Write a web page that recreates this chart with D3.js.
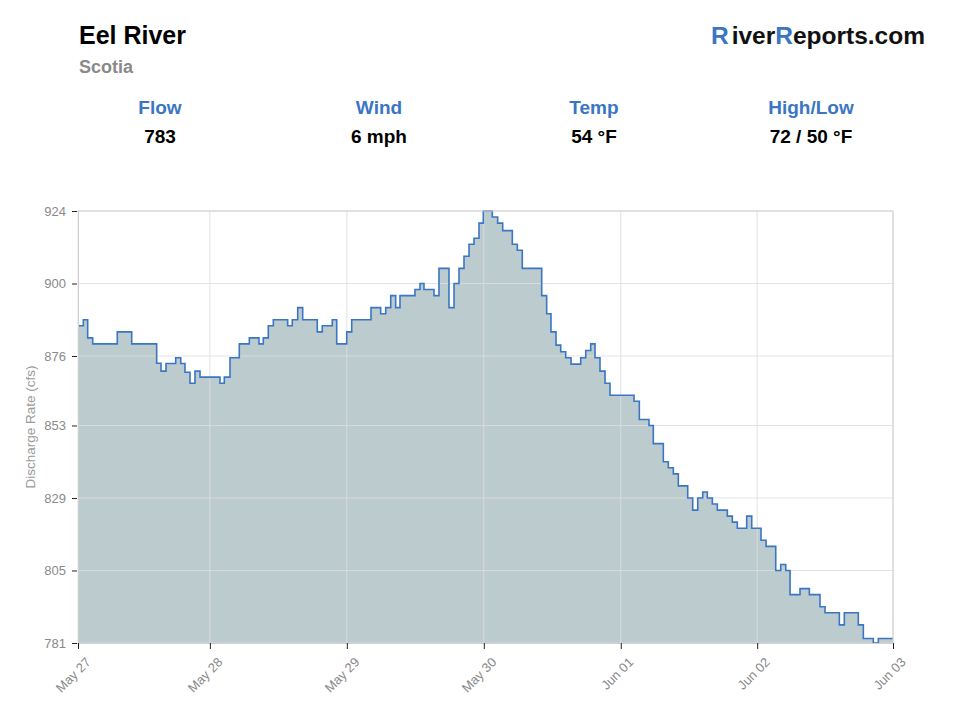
<!DOCTYPE html>
<html>
<head>
<meta charset="utf-8">
<script src="https://cdn.jsdelivr.net/npm/d3@7"></script>
<style>
  body { margin: 0; background: #fff; }
  svg { font-family: "Liberation Sans", Arial, sans-serif; }
</style>
</head>
<body>
<script>
// hours since the start of the chart, and discharge (cfs) from that hour on
const hours = [0, 0.94, 1.71, 2.6, 6.94, 9.49, 13.9, 14.67, 15.55, 17.26, 18.15, 18.9, 19.79, 20.67, 21.56,
  25.09, 25.85, 26.86, 28.5, 30.27, 31.98, 32.74, 33.62, 34.51, 37.05, 37.86, 38.82, 39.7, 42.28, 43.16,
  44.93, 45.71, 47.48, 48.36, 51.77, 53.48, 54.37, 55.25, 56.13, 56.89, 59.54, 60.43, 61.13, 62.9, 63.78,
  65.55, 66.44, 67.32, 68.2, 69.09, 69.97, 70.85, 71.61, 73.2, 74.15, 75.04, 76.74, 77.62, 78.5, 81.93,
  82.81, 83.57, 84.46, 85.29, 86.17, 87.11, 88.82, 89.71, 90.59, 91.35, 92.23, 93.12, 94, 98.24, 99.18,
  100.89, 101.65, 103.42, 104.3, 105.19, 106.07, 107.73, 108.61, 109.5, 110.38, 111.19, 112.08, 112.96,
  114.73, 115.61, 116.49, 118.15, 119.04, 120.68, 121.57, 123.28, 124.16, 125.05, 125.81, 127.57, 129.22,
  131.1, 131.99, 134.52, 135.4, 137.87, 138.76, 140.52, 141.41, 144];
const flow = [886, 888, 882, 880, 884, 880, 873.6, 871, 873.5, 875.4, 873.5, 870.6, 867, 871, 869,
  867, 869, 875.4, 880, 882, 880, 882, 886, 888, 886, 888, 892, 888, 884, 886,
  888, 880, 884, 888, 892, 890, 892, 896, 892, 896, 898, 900, 898, 896, 905,
  892, 900, 905, 909, 913, 915, 920, 924, 922, 920, 917.5, 913, 911, 905, 896,
  890, 884, 879.6, 877.4, 875.4, 873.3, 875.4, 877.8, 880, 875.4, 871, 867, 863, 861, 855,
  853, 847, 841, 839, 837, 833, 829, 825, 829, 831, 829, 827, 825,
  823, 821, 819, 823, 819, 815, 813, 805, 807, 805, 797, 799, 797,
  793, 791, 787, 791, 787, 782.5, 781, 782.5, 782.5];

const yTicks = [781, 805, 829, 853, 876, 900, 924];
const yDomain = [781, 924];
const xTickHours = [0, 23.3, 47.5, 71.7, 95.9, 120, 144];
const xTickLabels = ["May 27", "May 28", "May 29", "May 30", "Jun 01", "Jun 02", "Jun 03"];

const statLabels = ["Flow", "Wind", "Temp", "High/Low"];
const statValues = ["783", "6 mph", "54 °F", "72 / 50 °F"];
const statX = [160, 379, 594, 811];

const width = 960, height = 720;
const margin = { top: 211, right: 67, bottom: 77, left: 78 };
const innerW = width - margin.left - margin.right;
const innerH = height - margin.top - margin.bottom;

const blue = '#3a76c4';

const svg = d3.select('body').append('svg')
    .attr('width', width)
    .attr('height', height);

// header
svg.append('text').attr('x', 79).attr('y', 44)
    .attr('font-size', 25).attr('font-weight', 'bold').attr('fill', '#000')
    .text('Eel River');
svg.append('text').attr('x', 79).attr('y', 73)
    .attr('font-size', 18).attr('font-weight', 'bold').attr('fill', '#8a8a8a')
    .text('Scotia');

const brand = svg.append('text').attr('x', 925).attr('y', 44)
    .attr('text-anchor', 'end')
    .attr('font-size', 24.5).attr('font-weight', 'bold').attr('fill', '#111');
brand.append('tspan').attr('fill', blue).text('R');
brand.append('tspan').attr('dx', 3).text('iver');
brand.append('tspan').attr('fill', blue).text('R');
brand.append('tspan').text('eports.com');

statLabels.forEach((s, i) => {
  svg.append('text').attr('x', statX[i]).attr('y', 114)
      .attr('text-anchor', 'middle').attr('font-size', 19).attr('font-weight', 'bold')
      .attr('fill', blue).text(s);
  svg.append('text').attr('x', statX[i]).attr('y', 143)
      .attr('text-anchor', 'middle').attr('font-size', 19).attr('font-weight', 'bold')
      .attr('fill', '#000').text(statValues[i]);
});

const data = hours.map((h, i) => ({ h: h, v: flow[i] }));

const xScale = d3.scaleLinear().domain([0, 144]).range([0, innerW]);
const yScale = d3.scaleLinear().domain(yDomain).range([innerH, 0]);

const g = svg.append('g')
    .attr('transform', `translate(${margin.left}, ${margin.top})`);

// area under the step line
const area = d3.area()
    .curve(d3.curveStepAfter)
    .x(d => xScale(d.h))
    .y0(innerH)
    .y1(d => yScale(d.v));

g.append('path')
    .datum(data)
    .attr('d', area)
    .attr('fill', '#bccbcd');

// grid
g.append('g').selectAll('line.h')
    .data(yTicks)
    .enter().append('line')
    .attr('x1', 0).attr('x2', innerW)
    .attr('y1', d => yScale(d)).attr('y2', d => yScale(d))
    .attr('stroke', '#dedede').attr('stroke-opacity', 0.85);
g.append('g').selectAll('line.v')
    .data(xTickHours)
    .enter().append('line')
    .attr('x1', d => xScale(d)).attr('x2', d => xScale(d))
    .attr('y1', 0).attr('y2', innerH)
    .attr('stroke', '#dedede').attr('stroke-opacity', 0.85);

const line = d3.line()
    .curve(d3.curveStepAfter)
    .x(d => xScale(d.h))
    .y(d => yScale(d.v));

g.append('path')
    .datum(data)
    .attr('d', line)
    .attr('fill', 'none')
    .attr('stroke', blue)
    .attr('stroke-width', 1.6);

// axes
const yAxis = d3.axisLeft(yScale)
    .tickValues(yTicks)
    .tickSize(6)
    .tickPadding(6)
    .tickFormat(d3.format('d'));
const yG = g.append('g').call(yAxis);
yG.select('.domain').attr('stroke', '#d0d0d0');
yG.selectAll('.tick line').attr('stroke', '#222').attr('x2', -6).attr('x1', -1);
yG.selectAll('.tick text').attr('fill', '#8a8a8a').attr('font-size', 13)
    .attr('font-family', '"Liberation Sans", Arial, sans-serif');

const xAxis = d3.axisBottom(xScale)
    .tickValues(xTickHours)
    .tickSize(6)
    .tickFormat((d, i) => xTickLabels[i]);
const xG = g.append('g').attr('transform', `translate(0, ${innerH})`).call(xAxis);
xG.select('.domain').attr('stroke', '#d0d0d0');
xG.selectAll('.tick line').attr('stroke', '#222');
xG.selectAll('.tick text')
    .attr('fill', '#8a8a8a').attr('font-size', 13)
    .attr('font-family', '"Liberation Sans", Arial, sans-serif')
    .attr('text-anchor', 'end')
    .attr('dy', null).attr('y', 0)
    .attr('transform', 'translate(13, 20) rotate(-45)');

// top and right border
g.append('line').attr('x1', 0).attr('x2', innerW).attr('y1', 0).attr('y2', 0)
    .attr('stroke', '#d0d0d0');
g.append('line').attr('x1', innerW).attr('x2', innerW).attr('y1', 0).attr('y2', innerH)
    .attr('stroke', '#d0d0d0');

svg.append('text')
    .attr('transform', `translate(35, ${margin.top + innerH / 2}) rotate(-90)`)
    .attr('text-anchor', 'middle')
    .attr('font-size', 13.5).attr('fill', '#9a9a9a')
    .text('Discharge Rate (cfs)');
</script>
</body>
</html>
